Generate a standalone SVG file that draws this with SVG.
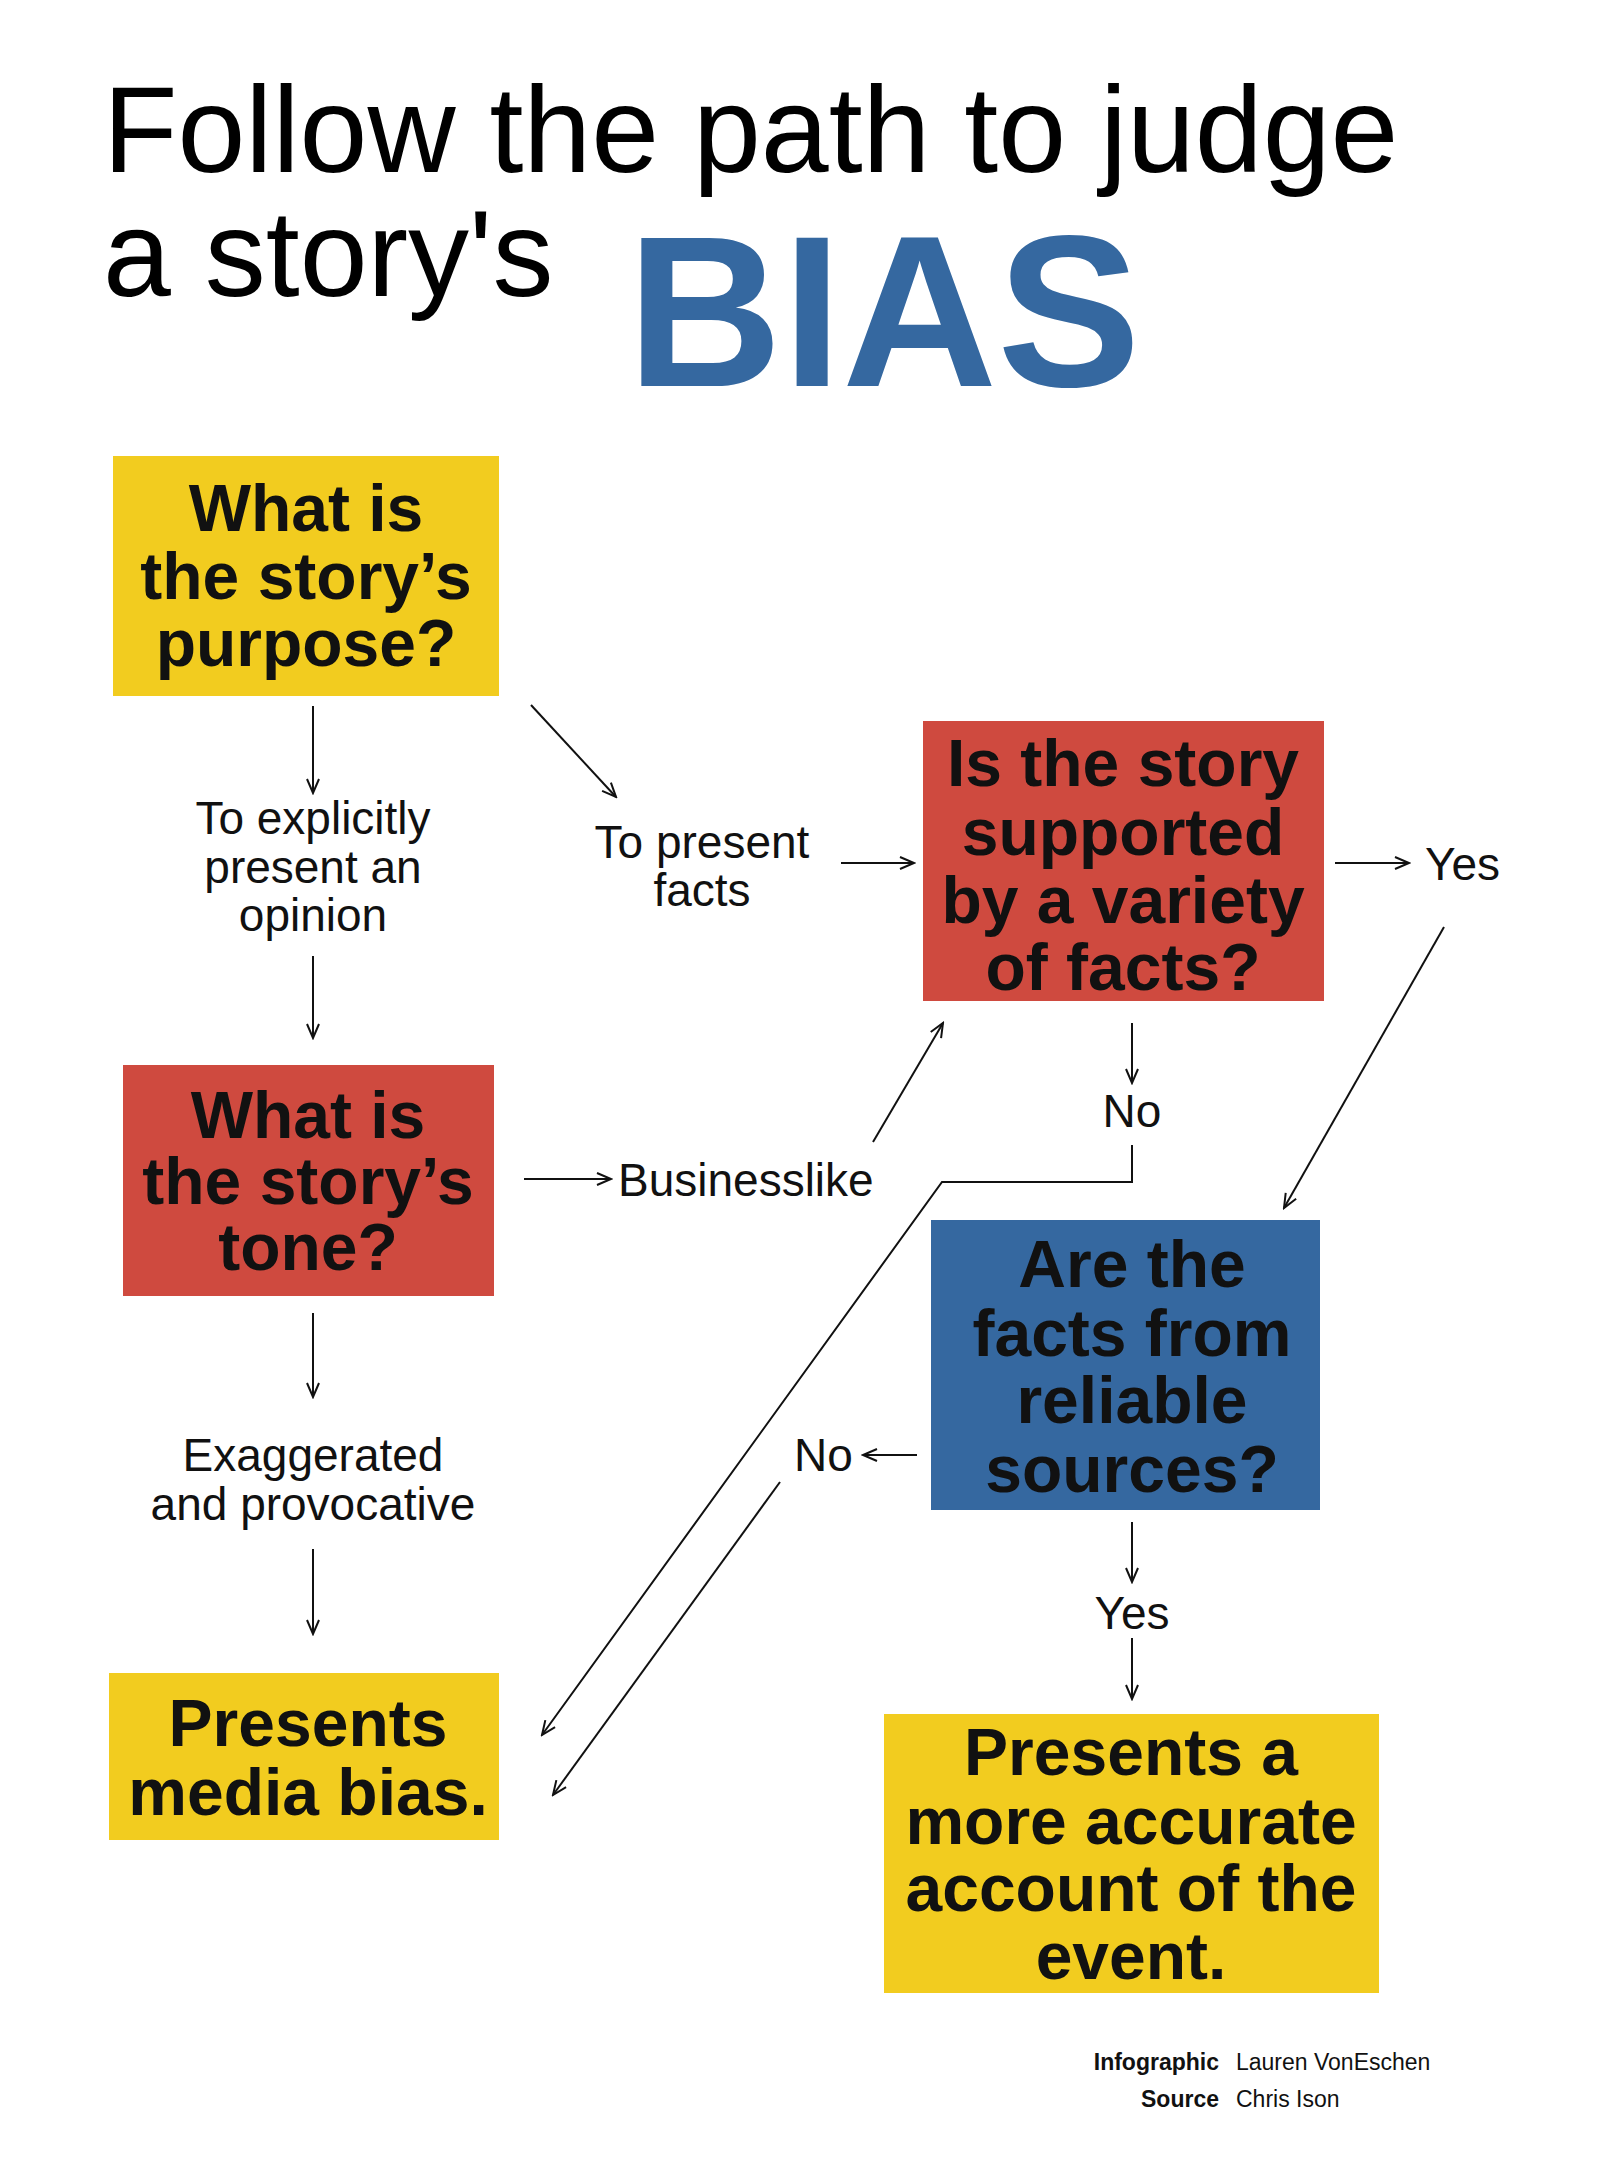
<svg xmlns="http://www.w3.org/2000/svg" width="1600" height="2158" viewBox="0 0 1600 2158">
<style>
.t{font-family:"Liberation Sans",Arial,sans-serif;fill:#000}
.q{font-family:"Liberation Sans",Arial,sans-serif;font-weight:bold;font-size:66px;text-anchor:middle;fill:#111}
.l{font-family:"Liberation Sans",Arial,sans-serif;font-size:46px;fill:#111}
.c{stroke:#111;stroke-width:2;fill:none;marker-end:url(#ah)}
</style>
<defs>
<marker id="ah" viewBox="0 0 20 20" refX="18" refY="10" markerWidth="20" markerHeight="20" markerUnits="userSpaceOnUse" orient="auto">
<path d="M4,4 L18,10 L4,16" fill="none" stroke="#111" stroke-width="2"/>
</marker>
</defs>
<rect width="1600" height="2158" fill="#fff"/>
<g id="title">
<text class="t" x="103" y="172" font-size="122">Follow the path to judge</text>
<text class="t" x="103" y="296" font-size="122">a story's</text>
<text x="627" y="386" font-family="Liberation Sans,Arial,sans-serif" font-weight="bold" font-size="215" fill="#3568A0">BIAS</text>
</g>
<g id="connectors">
<path class="c" d="M313,706 L313,793"/>
<path class="c" d="M531,705 L616,797"/>
<path class="c" d="M841,863 L914,863"/>
<path class="c" d="M313,956 L313,1038"/>
<path class="c" d="M1335,863 L1409,863"/>
<path class="c" d="M1444,927 L1284,1208"/>
<path class="c" d="M1132,1023 L1132,1083"/>
<path class="c" d="M1132,1145 L1132,1182 L942,1182 L542,1735"/>
<path class="c" d="M524,1179 L611,1179"/>
<path class="c" d="M873,1142 L943,1023"/>
<path class="c" d="M313,1313 L313,1397"/>
<path class="c" d="M313,1549 L313,1634"/>
<path class="c" d="M917,1455 L863,1455"/>
<path class="c" d="M780,1482 L553,1795"/>
<path class="c" d="M1132,1522 L1132,1582"/>
<path class="c" d="M1132,1638 L1132,1699"/>
</g>
<g id="n1"><rect x="113" y="456" width="386" height="240" fill="#F2CC1F"/>
<text class="q"><tspan x="306" y="531">What is</tspan><tspan x="306" y="599">the story’s</tspan><tspan x="306" y="666">purpose?</tspan></text></g>
<g id="n2"><rect x="923" y="721" width="401" height="280" fill="#CF4A3F"/>
<text class="q"><tspan x="1123" y="786">Is the story</tspan><tspan x="1123" y="855">supported</tspan><tspan x="1123" y="923">by a variety</tspan><tspan x="1123" y="990">of facts?</tspan></text></g>
<g id="n3"><rect x="123" y="1065" width="371" height="231" fill="#CF4A3F"/>
<text class="q"><tspan x="308" y="1138">What is</tspan><tspan x="308" y="1204">the story’s</tspan><tspan x="308" y="1270">tone?</tspan></text></g>
<g id="n4"><rect x="931" y="1220" width="389" height="290" fill="#3568A0"/>
<text class="q"><tspan x="1132" y="1287">Are the</tspan><tspan x="1132" y="1356">facts from</tspan><tspan x="1132" y="1423">reliable</tspan><tspan x="1132" y="1492">sources?</tspan></text></g>
<g id="n5"><rect x="109" y="1673" width="390" height="167" fill="#F2CC1F"/>
<text class="q"><tspan x="308" y="1746">Presents</tspan><tspan x="308" y="1815">media bias.</tspan></text></g>
<g id="n6"><rect x="884" y="1714" width="495" height="279" fill="#F2CC1F"/>
<text class="q"><tspan x="1131" y="1775">Presents a</tspan><tspan x="1131" y="1844">more accurate</tspan><tspan x="1131" y="1911">account of the</tspan><tspan x="1131" y="1979">event.</tspan></text></g>
<g id="labels">
<text class="l" text-anchor="middle"><tspan x="313" y="834">To explicitly</tspan><tspan x="313" y="883">present an</tspan><tspan x="313" y="931">opinion</tspan></text>
<text class="l" text-anchor="middle"><tspan x="702" y="858">To present</tspan><tspan x="702" y="906">facts</tspan></text>
<text class="l" x="1425" y="880">Yes</text>
<text class="l" x="1132" y="1127" text-anchor="middle">No</text>
<text class="l" x="618" y="1196">Businesslike</text>
<text class="l" text-anchor="middle"><tspan x="313" y="1471">Exaggerated</tspan><tspan x="313" y="1520">and provocative</tspan></text>
<text class="l" x="794" y="1471">No</text>
<text class="l" x="1132" y="1629" text-anchor="middle">Yes</text>
</g>
<g id="credits" font-family="Liberation Sans,Arial,sans-serif" font-size="23" fill="#111">
<text x="1219" y="2070" text-anchor="end" font-weight="bold">Infographic</text>
<text x="1236" y="2070">Lauren VonEschen</text>
<text x="1219" y="2107" text-anchor="end" font-weight="bold">Source</text>
<text x="1236" y="2107">Chris Ison</text>
</g>
</svg>
